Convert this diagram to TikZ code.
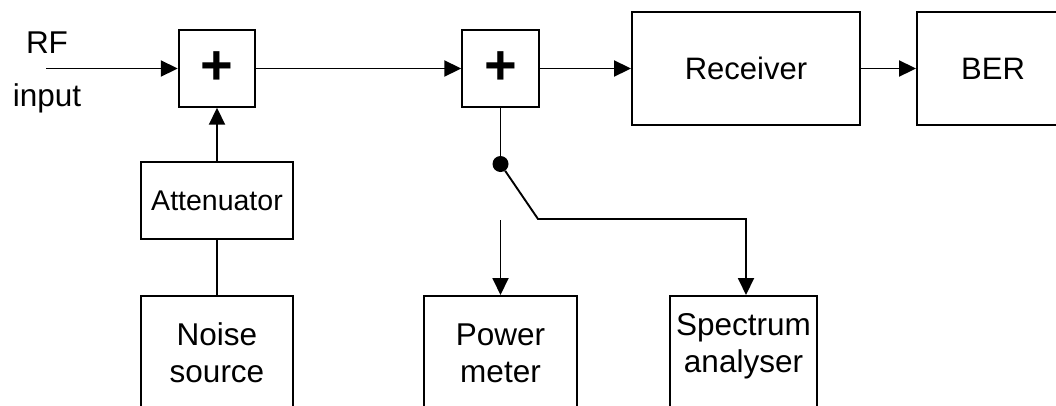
\documentclass[tikz,border=0pt]{standalone}
\usepackage{fontspec}
\setmainfont{Liberation Sans}
\usetikzlibrary{arrows.meta}
\begin{document}
\begin{tikzpicture}[x=1pt,y=-1pt,
  lw/.style={line width=1.9pt},
  blk/.style={draw, lw, inner sep=0pt, font=\fontsize{31}{37}\selectfont},
  sumbox/.style={draw, lw, inner sep=0pt, minimum size=76.5pt, font=\fontsize{56}{56}\selectfont\bfseries},
  txt/.style={inner sep=0pt, anchor=base, font=\fontsize{31.5}{37}\selectfont},
  conn/.style={lw},
  arr/.style={lw, -{Triangle[length=17pt,width=16pt]}},
  dotnode/.style={circle, fill, inner sep=0pt, minimum size=16pt}]
\useasboundingbox (0,0) rectangle (1056,405);
\clip (0,0) rectangle (1056,405);
% top row
\node[sumbox] (sum1) at (217,68.5) {+};
\node[sumbox] (sum2) at (500.5,68.5) {+};
\node[blk, minimum width=228pt, minimum height=113pt] (rx) at (746,68.5) {Receiver};
\node[blk, minimum width=152pt, minimum height=113pt] (ber) at (993,68.5) {BER};
% left column
\node[blk, minimum width=152pt, minimum height=77pt, font=\fontsize{28.5}{34}\selectfont] (att) at (217,200.5) {Attenuator};
\node[blk, minimum width=152pt, minimum height=140pt, anchor=north] (noise) at (217,295) {};
\node[txt] (noise1) at (217,345) {Noise};
\node[txt] (noise2) at (217,382) {source};
% bottom right
\node[blk, minimum width=153pt, minimum height=140pt, anchor=north] (pwr) at (500.5,295) {};
\node[txt] (pwr1) at (500.5,345) {Power};
\node[txt] (pwr2) at (500.5,382) {meter};
\node[blk, minimum width=147pt, minimum height=140pt, anchor=north] (spec) at (743.5,295) {};
\node[txt] (spec1) at (743.5,335) {Spectrum};
\node[txt] (spec2) at (743.5,372) {analyser};
% input
\node[txt] (rf) at (47,53) {RF};
\node[txt] (inp) at (47,106) {input};
\coordinate (rfin) at (46,68.5);
% switch
\node[dotnode] (dot) at (500.5,164) {};
\coordinate (bend) at (538,219);
\coordinate (corner) at (746,219);
\coordinate (pmtop) at (500.5,220);
% connectors
\draw[arr] (rfin) -- (sum1.west);
\draw[arr] (sum1.east) -- (sum2.west);
\draw[arr] (sum2.east) -- (rx.west);
\draw[arr] (rx.east) -- (ber.west);
\draw[conn] (noise.north) -- (att.south);
\draw[arr] (att.north) -- (sum1.south);
\draw[conn] (sum2.south) -- (dot);
\draw[arr] (dot) -- (bend) -- (corner) -- (corner |- spec.north);
\draw[arr] (pmtop) -- (pwr.north);
\end{tikzpicture}
\end{document}
